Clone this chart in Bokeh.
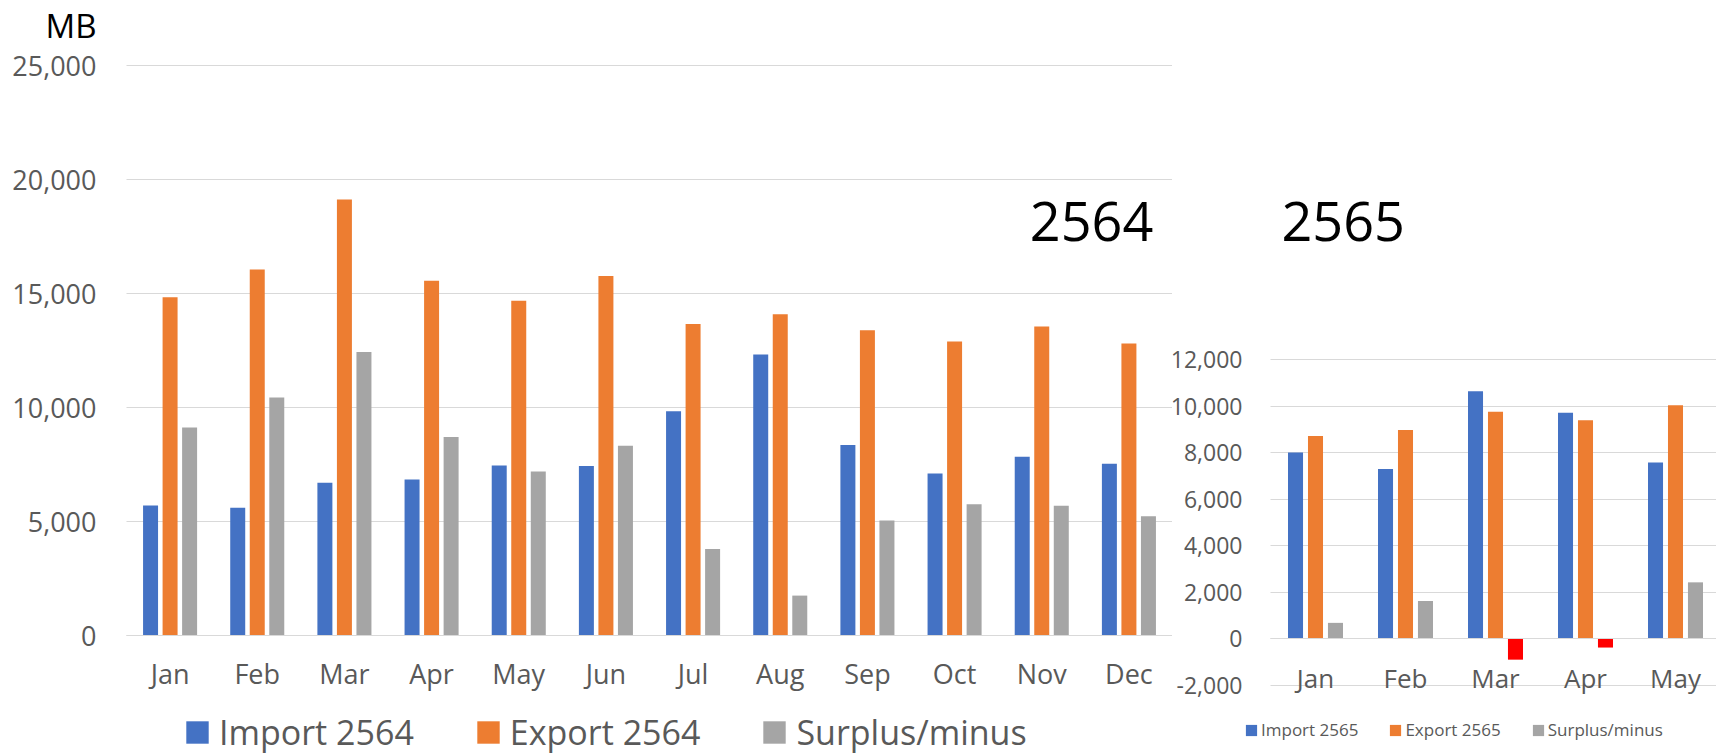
from bokeh.plotting import figure
from bokeh.models import (ColumnDataSource, Range1d, Label, Legend, LegendItem,
                          NumeralTickFormatter, FixedTicker)
from bokeh.transform import dodge
from bokeh.layouts import row
from bokeh.embed import file_html
from bokeh.resources import INLINE

# ---------------- data ----------------
months_2564 = ["Jan", "Feb", "Mar", "Apr", "May", "Jun", "Jul", "Aug", "Sep", "Oct", "Nov", "Dec"]
import_2564 = [5700, 5600, 6700, 6840, 7460, 7430, 9840, 12330, 8350, 7100, 7840, 7530]
export_2564 = [14840, 16050, 19120, 15560, 14680, 15770, 13660, 14090, 13390, 12900, 13550, 12810]
surplus_2564 = [9120, 10440, 12430, 8710, 7190, 8320, 3790, 1750, 5040, 5760, 5690, 5230]

months_2565 = ["Jan", "Feb", "Mar", "Apr", "May"]
import_2565 = [8010, 7300, 10640, 9710, 7580]
export_2565 = [8710, 8970, 9760, 9390, 10030]
surplus_2565 = [690, 1630, -890, -370, 2430]

left_ticks = [0, 5000, 10000, 15000, 20000, 25000]
right_ticks = [-2000, 0, 2000, 4000, 6000, 8000, 10000, 12000]

IMPORT_COLOR = "#4472C4"
EXPORT_COLOR = "#ED7D31"
SURPLUS_COLOR = "#A5A5A5"
NEG_COLOR = "#FF0000"
GRID = "#D9D9D9"
TXT = "#595959"
FONT = "Open Sans"


def style_axes(p, yticks, y_standoff, y_size, x_standoff, x_size, xticks, xlabels, xmax):
    p.outline_line_color = None
    p.background_fill_color = "white"
    p.border_fill_color = "white"
    p.xgrid.grid_line_color = None
    p.ygrid.grid_line_color = GRID
    p.ygrid.grid_line_width = 1
    p.ygrid.ticker = FixedTicker(ticks=yticks)
    p.ygrid.cross_bounds = (0, xmax)

    ya = p.yaxis[0]
    ya.fixed_location = 0
    ya.ticker = FixedTicker(ticks=yticks)
    ya.formatter = NumeralTickFormatter(format="0,0")
    ya.axis_line_color = None
    ya.major_tick_line_color = None
    ya.minor_tick_line_color = None
    ya.major_tick_out = 0
    ya.major_tick_in = 0
    ya.major_label_standoff = y_standoff
    ya.major_label_text_font = FONT
    ya.major_label_text_font_size = y_size
    ya.major_label_text_color = TXT

    xa = p.xaxis[0]
    xa.fixed_location = 0
    xa.ticker = FixedTicker(ticks=xticks)
    xa.major_label_overrides = {x: m for x, m in zip(xticks, xlabels)}
    xa.axis_line_color = GRID
    xa.axis_line_width = 1
    xa.major_tick_line_color = None
    xa.minor_tick_line_color = None
    xa.major_tick_out = 0
    xa.major_tick_in = 0
    xa.major_label_standoff = x_standoff
    xa.major_label_text_font = FONT
    xa.major_label_text_font_size = x_size
    xa.major_label_text_color = TXT
    xa.bounds = (0, xmax)


# ---------------- left chart (2564) ----------------
x1 = [i + 0.5 for i in range(len(months_2564))]
src1 = ColumnDataSource(dict(x=x1, imp=import_2564, exp=export_2564, sur=surplus_2564))

p1 = figure(x_range=Range1d(-1.4455, 12), y_range=Range1d(-5263, 27851),
            width=1172, height=755, output_backend="svg", toolbar_location=None,
            min_border_left=0, min_border_right=0, min_border_top=0, min_border_bottom=0)

BW1 = 0.172
OFF1 = 0.224
r1 = p1.vbar(x=dodge("x", -OFF1), top="imp", width=BW1, source=src1,
             fill_color=IMPORT_COLOR, line_color=None)
r2 = p1.vbar(x=dodge("x", 0), top="exp", width=BW1, source=src1,
             fill_color=EXPORT_COLOR, line_color=None)
r3 = p1.vbar(x=dodge("x", OFF1), top="sur", width=BW1, source=src1,
             fill_color=SURPLUS_COLOR, line_color=None)

style_axes(p1, left_ticks, 30, "27px", 19, "27px", x1, months_2564, 12)

leg1 = Legend(items=[LegendItem(label="Import 2564", renderers=[r1]),
                     LegendItem(label="Export 2564", renderers=[r2]),
                     LegendItem(label="Surplus/minus", renderers=[r3])],
              orientation="horizontal", location=(183, 0),
              glyph_width=28, glyph_height=28, label_standoff=8, spacing=60,
              padding=0, margin=0, border_line_color=None, background_fill_alpha=0,
              label_text_font=FONT, label_text_font_size="34px", label_text_color=TXT)
p1.add_layout(leg1, "center")

p1.add_layout(Label(x=-0.344, y=26754, text="MB", text_align="right", text_baseline="middle",
                    text_font=FONT, text_font_size="33px", text_color="black"))
p1.add_layout(Label(x=11.78, y=18158, text="2564", text_align="right", text_baseline="middle",
                    text_font=FONT, text_font_size="54px", text_color="black"))

# ---------------- right chart (2565) ----------------
x2 = [i + 0.5 for i in range(len(months_2565))]
sur_colors = [NEG_COLOR if v < 0 else SURPLUS_COLOR for v in surplus_2565]
src2 = ColumnDataSource(dict(x=x2, imp=import_2565, exp=export_2565, sur=surplus_2565, sc=sur_colors))

XMAX2 = 4.9556
p2 = figure(x_range=Range1d(-1.0889, XMAX2), y_range=Range1d(-5006, 27417),
            width=544, height=755, output_backend="svg", toolbar_location=None,
            min_border_left=0, min_border_right=0, min_border_top=0, min_border_bottom=0)

BW2 = 0.167
OFF2 = 0.222
q1 = p2.vbar(x=dodge("x", -OFF2), top="imp", width=BW2, source=src2,
             fill_color=IMPORT_COLOR, line_color=None)
q2 = p2.vbar(x=dodge("x", 0), top="exp", width=BW2, source=src2,
             fill_color=EXPORT_COLOR, line_color=None)
q3 = p2.vbar(x=dodge("x", OFF2), top="sur", width=BW2, source=src2,
             fill_color="sc", line_color=None)

style_axes(p2, right_ticks, 28, "23px", 21, "26px", x2, months_2565, XMAX2)

leg2 = Legend(items=[LegendItem(label="Import 2565", renderers=[q1]),
                     LegendItem(label="Export 2565", renderers=[q2]),
                     LegendItem(label="Surplus/minus", renderers=[q3], index=0)],
              orientation="horizontal", location=(72, 14),
              glyph_width=14, glyph_height=14, label_standoff=3, spacing=30,
              padding=0, margin=0, border_line_color=None, background_fill_alpha=0,
              label_text_font=FONT, label_text_font_size="17px", label_text_color=TXT)
p2.add_layout(leg2, "center")

p2.add_layout(Label(x=0.122, y=17926, text="2565", text_align="left", text_baseline="middle",
                    text_font=FONT, text_font_size="54px", text_color="black"))

layout = row(p1, p2)
open("out.html", "w").write(file_html(layout, INLINE))
